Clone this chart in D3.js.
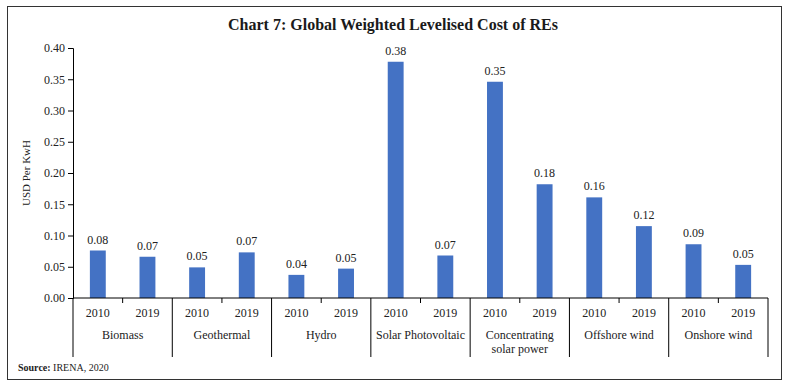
<!DOCTYPE html>
<html>
<head>
<meta charset="utf-8">
<script src="https://cdn.jsdelivr.net/npm/d3@7"></script>
<style>
  body { margin: 0; background: #fff; }
  svg { font-family: "Liberation Serif", "DejaVu Serif", serif; }
</style>
</head>
<body>
<svg width="786" height="387"></svg>
<script>
const categories = ['Biomass', 'Geothermal', 'Hydro', 'Solar Photovoltaic', 'Concentrating solar power', 'Offshore wind', 'Onshore wind'];
const categoryLines = [['Biomass'], ['Geothermal'], ['Hydro'], ['Solar Photovoltaic'], ['Concentrating', 'solar power'], ['Offshore wind'], ['Onshore wind']];
const years = ['2010', '2019'];
const values2010 = [0.076, 0.049, 0.037, 0.378, 0.346, 0.161, 0.086];
const values2019 = [0.066, 0.073, 0.047, 0.068, 0.182, 0.115, 0.053];
const yTicks = [0, 0.05, 0.10, 0.15, 0.20, 0.25, 0.30, 0.35, 0.40];

const data = [];
categories.forEach((c, i) => {
  data.push({ cat: c, year: '2010', value: values2010[i] });
  data.push({ cat: c, year: '2019', value: values2019[i] });
});

const svg = d3.select('svg');

svg.append('rect')
  .attr('x', 7.5).attr('y', 6.5)
  .attr('width', 774).attr('height', 373)
  .attr('fill', 'none').attr('stroke', '#333').attr('stroke-width', 1);

svg.append('text')
  .attr('x', 393).attr('y', 30)
  .attr('text-anchor', 'middle')
  .attr('font-weight', 'bold')
  .attr('font-size', 16)
  .attr('fill', '#1a1a1a')
  .text('Chart 7: Global Weighted Levelised Cost of REs');

const margin = { top: 48, left: 73 };
const width = 695, height = 250;
const g = svg.append('g').attr('transform', `translate(${margin.left},${margin.top})`);

const x0 = d3.scaleBand().domain(categories).range([0, width]);
const x1 = d3.scaleBand().domain(years).range([0, x0.bandwidth()]).paddingInner(0.68).paddingOuter(0.34);
const y = d3.scaleLinear().domain([0, 0.4]).range([height, 0]);

// y axis
const yAxis = g.append('g')
  .call(d3.axisLeft(y).tickValues(yTicks).tickFormat(d3.format('.2f')).tickSize(5));
yAxis.select('.domain').attr('stroke', '#000');
yAxis.selectAll('.tick line').attr('stroke', '#000');
yAxis.selectAll('.tick text').attr('font-size', 12).attr('fill', '#222')
  .attr('font-family', '"Liberation Serif", serif');

g.append('text')
  .attr('transform', `translate(-43,${height / 2}) rotate(-90)`)
  .attr('text-anchor', 'middle')
  .attr('font-size', 11)
  .attr('fill', '#222')
  .text('USD Per KwH');

// bars
g.selectAll('.bar')
  .data(data)
  .enter().append('rect')
  .attr('class', 'bar')
  .attr('x', d => x0(d.cat) + x1(d.year))
  .attr('y', d => y(d.value))
  .attr('width', x1.bandwidth())
  .attr('height', d => height - y(d.value))
  .attr('fill', '#4472C4');

g.selectAll('.val')
  .data(data)
  .enter().append('text')
  .attr('class', 'val')
  .attr('x', d => x0(d.cat) + x1(d.year) + x1.bandwidth() / 2)
  .attr('y', d => y(d.value) - 7)
  .attr('text-anchor', 'middle')
  .attr('font-size', 12)
  .attr('fill', '#222')
  .text(d => d3.format('.2f')(d.value));

// x axis baseline
g.append('line')
  .attr('x1', 0).attr('x2', width)
  .attr('y1', height).attr('y2', height)
  .attr('stroke', '#000');

// group dividers
const bounds = categories.map(c => x0(c)).concat([width]);
g.selectAll('.divider')
  .data(bounds)
  .enter().append('line')
  .attr('x1', d => d).attr('x2', d => d)
  .attr('y1', height).attr('y2', height + 59)
  .attr('stroke', '#000');

// small ticks between years
g.selectAll('.midtick')
  .data(categories)
  .enter().append('line')
  .attr('x1', d => x0(d) + x0.bandwidth() / 2)
  .attr('x2', d => x0(d) + x0.bandwidth() / 2)
  .attr('y1', height).attr('y2', height + 5)
  .attr('stroke', '#000');

// year labels
g.selectAll('.yr')
  .data(data)
  .enter().append('text')
  .attr('class', 'yr')
  .attr('x', d => x0(d.cat) + x1(d.year) + x1.bandwidth() / 2)
  .attr('y', height + 19)
  .attr('text-anchor', 'middle')
  .attr('font-size', 12)
  .attr('fill', '#222')
  .text(d => d.year);

// category labels
const catG = g.selectAll('.cat')
  .data(categories)
  .enter().append('text')
  .attr('class', 'cat')
  .attr('x', d => x0(d) + x0.bandwidth() / 2)
  .attr('y', height + 41)
  .attr('text-anchor', 'middle')
  .attr('font-size', 12)
  .attr('fill', '#222');
catG.each(function (d, i) {
  d3.select(this).selectAll('tspan')
    .data(categoryLines[i])
    .enter().append('tspan')
    .attr('x', x0(d) + x0.bandwidth() / 2)
    .attr('dy', (t, j) => j === 0 ? 0 : 14)
    .text(t => t);
});

// source
const src = svg.append('text')
  .attr('x', 18).attr('y', 371)
  .attr('font-size', 10)
  .attr('fill', '#222');
src.append('tspan').attr('font-weight', 'bold').text('Source: ');
src.append('tspan').text('IRENA, 2020');
</script>
</body>
</html>
